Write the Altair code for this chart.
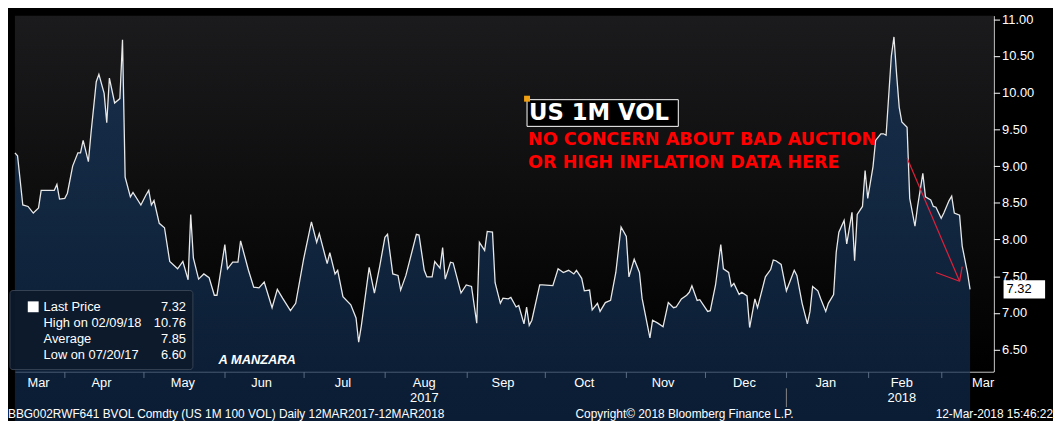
import pandas as pd
import altair as alt

# day offsets from 13-Mar-2017 and BVOL values
days = [0, 1, 3, 5, 7, 9, 10, 15, 16, 17, 19, 20, 22, 24, 25, 26, 28, 29, 31, 32,
        34, 35, 36, 38, 40, 41, 42, 44, 45, 48, 50, 51, 52, 53, 55, 57, 59, 62, 64, 66,
        67, 68, 70, 72, 74, 76, 77, 80, 81, 83, 85, 86, 89, 91, 93, 95, 98, 100, 102, 105,
        107, 110, 113, 115, 116, 119, 120, 122, 123, 125, 128, 130, 131, 132, 135, 137, 139, 141, 142, 144,
        146, 147, 149, 153, 154, 156, 157, 159, 160, 162, 163, 164, 166, 167, 170, 172, 174, 176, 177, 179,
        180, 182, 183, 185, 186, 188, 189, 191, 192, 194, 195, 196, 197, 200, 201, 205, 207, 209, 211, 213,
        214, 216, 217, 219, 220, 222, 223, 225, 227, 229, 231, 233, 234, 236, 238, 239, 242, 243, 245, 247,
        249, 251, 252, 254, 256, 257, 258, 260, 261, 264, 265, 267, 269, 270, 272, 273, 274, 276, 277, 279,
        280, 282, 283, 286, 288, 289, 290, 292, 293, 294, 297, 298, 300, 302, 303, 304, 306, 307, 309, 310,
        312, 313, 314, 316, 317, 319, 320, 321, 323, 324, 325, 327, 328, 330, 331, 332, 334, 335, 336, 337,
        338, 340, 341, 343, 344, 346, 347, 349, 350, 351, 353, 354, 356, 357, 358, 360, 361, 363, 364]
vals = [9.18, 9.14, 8.47, 8.45, 8.36, 8.43, 8.67, 8.67, 8.75, 8.55, 8.56, 8.63, 9.00, 9.18, 9.18, 9.35, 9.06, 9.45, 10.15, 10.25,
        9.99, 9.59, 10.20, 9.86, 9.92, 10.72, 8.85, 8.58, 8.64, 8.47, 8.61, 8.67, 8.47, 8.53, 8.22, 8.16, 7.70, 7.60, 7.70, 7.45,
        8.34, 7.75, 7.46, 7.53, 7.48, 7.24, 7.24, 7.93, 7.60, 7.69, 7.69, 7.98, 7.58, 7.35, 7.34, 7.42, 7.07, 7.32, 7.20, 7.03,
        7.13, 7.73, 8.24, 7.96, 8.08, 7.67, 7.82, 7.53, 7.58, 7.22, 7.11, 6.93, 6.60, 6.82, 7.62, 7.27, 7.63, 8.03, 8.07, 7.53,
        7.51, 7.31, 7.51, 8.07, 8.06, 7.58, 7.49, 7.49, 7.70, 7.61, 7.89, 7.46, 7.69, 7.68, 7.27, 7.38, 7.36, 6.86, 7.96, 7.85,
        8.11, 8.10, 7.41, 7.13, 7.20, 7.19, 7.21, 7.08, 7.10, 6.85, 7.08, 6.83, 6.90, 7.38, 7.38, 7.37, 7.60, 7.55, 7.58, 7.53,
        7.58, 7.47, 7.30, 7.31, 7.04, 7.13, 7.02, 7.14, 7.17, 7.55, 8.17, 8.04, 7.49, 7.73, 7.55, 7.20, 6.66, 6.90, 6.86, 6.81,
        7.14, 7.07, 7.08, 7.19, 7.24, 7.28, 7.37, 7.17, 7.18, 7.02, 7.03, 7.38, 7.93, 7.60, 7.55, 7.36, 7.40, 7.25, 7.28, 7.23,
        6.80, 7.19, 7.07, 7.49, 7.59, 7.72, 7.71, 7.66, 7.48, 7.30, 7.58, 7.51, 7.13, 6.85, 7.02, 7.36, 7.30, 7.20, 7.02, 7.13,
        7.25, 7.83, 8.10, 8.26, 7.94, 8.37, 7.71, 8.34, 8.45, 8.94, 8.56, 8.99, 9.35, 9.44, 9.44, 9.42, 10.50, 10.76, 10.25, 9.80,
        9.60, 9.53, 8.56, 8.18, 8.45, 8.90, 8.58, 8.54, 8.45, 8.44, 8.29, 8.36, 8.53, 8.59, 8.36, 8.33, 7.91, 7.55, 7.32]

months = ["Mar", "Apr", "May", "Jun", "Jul", "Aug", "Sep", "Oct", "Nov", "Dec", "Jan", "Feb", "Mar"]
month_mid = ["2017-03-22", "2017-04-15", "2017-05-16", "2017-06-15", "2017-07-16", "2017-08-16",
             "2017-09-15", "2017-10-16", "2017-11-15", "2017-12-16", "2018-01-16", "2018-02-14", "2018-03-17"]
years = ["2017", "2018"]
year_mid = ["2017-08-16", "2018-02-14"]

legend_names = ["Last Price", "High on 02/09/18", "Average", "Low on 07/20/17"]
legend_vals = ["7.32", "10.76", "7.85", "6.60"]
footer_texts = ["BBG002RWF641 BVOL Comdty (US 1M 100 VOL)  Daily 12MAR2017-12MAR2018",
                "Copyright\u00a9 2018 Bloomberg Finance L.P.", "12-Mar-2018 15:46:22"]

W, H = 990, 360
start = pd.Timestamp("2017-03-13")
df = pd.DataFrame({"date": start + pd.to_timedelta(days, unit="D"), "v": vals})
x_dom = [start.isoformat(), (start + pd.Timedelta(days=373)).isoformat()]
xs = alt.Scale(domain=x_dom)
ys = alt.Scale(domain=[6.2, 11.05], nice=False, zero=False)
ps = alt.Scale(domain=[0, H], range=[0, H])
FONT = "Liberation Sans"

bg = alt.Chart(pd.DataFrame({"a": [0]})).mark_rect(
    color={"gradient": "linear", "x1": 0, "y1": 0, "x2": 0, "y2": 1,
           "stops": [{"offset": 0, "color": "#1b1b1d"}, {"offset": 1, "color": "#000000"}]}
).encode(x=alt.value(0), x2=alt.value(W), y=alt.value(0), y2=alt.value(H))

area = alt.Chart(df).mark_area(
    color={"gradient": "linear", "x1": 0, "y1": 0, "x2": 0, "y2": 1,
           "stops": [{"offset": 0, "color": "#18385e"}, {"offset": 1, "color": "#061a36"}]},
    line={"color": "#e8e8e8", "strokeWidth": 1.3}
).encode(
    x=alt.X("date:T", scale=xs, axis=alt.Axis(
        title=None, labels=False, tickCount={"interval": "month", "step": 1},
        grid=True, gridColor="#666", gridDash=[2, 3], domainColor="#ffffff",
        tickColor="#ffffff", tickSize=6)),
    y=alt.Y("v:Q", scale=ys, axis=alt.Axis(
        orient="right", title=None, values=[6.5 + 0.5 * i for i in range(10)], format=".2f",
        grid=True, gridColor="#666", gridDash=[2, 3], domainColor="#ffffff",
        tickColor="#ffffff", tickSize=6, labelColor="#ffffff", labelFontSize=13,
        labelFont=FONT, labelPadding=2)),
)

mlab = alt.Chart(pd.DataFrame({"d": month_mid, "t": months})).mark_text(
    color="#ffffff", fontSize=13, font=FONT).encode(
    x=alt.X("d:T", scale=xs), y=alt.value(H + 12), text="t:N")
ylab = alt.Chart(pd.DataFrame({"d": year_mid, "t": years})).mark_text(
    color="#ffffff", fontSize=13, font=FONT).encode(
    x=alt.X("d:T", scale=xs), y=alt.value(H + 27), text="t:N")
ysep = alt.Chart(pd.DataFrame({"d": ["2018-01-01"]})).mark_rule(color="#888").encode(
    x=alt.X("d:T", scale=xs), y=alt.value(H + 17), y2=alt.value(H + 36))

foot_l = alt.Chart(pd.DataFrame({"t": [footer_texts[0]]})).mark_text(
    color="#ffffff", fontSize=12, font=FONT, align="left").encode(
    x=alt.value(-7), y=alt.value(H + 43), text="t:N")
foot_c = alt.Chart(pd.DataFrame({"t": [footer_texts[1]]})).mark_text(
    color="#ffffff", fontSize=12, font=FONT, align="left").encode(
    x=alt.value(567), y=alt.value(H + 43), text="t:N")
foot_r = alt.Chart(pd.DataFrame({"t": [footer_texts[2]]})).mark_text(
    color="#ffffff", fontSize=12, font=FONT, align="right").encode(
    x=alt.value(1050), y=alt.value(H + 43), text="t:N")

# last price tag on the axis
tag = alt.Chart(pd.DataFrame({"v1": [7.195], "v2": [7.445]})).mark_rect(
    color="#ffffff").encode(x=alt.value(W + 10), x2=alt.value(W + 52),
                            y=alt.Y("v1:Q", scale=ys, axis=None), y2="v2:Q")
tag_txt = alt.Chart(pd.DataFrame({"v": [7.32], "t": ["7.32"]})).mark_text(
    color="#000000", fontSize=13, font=FONT, align="left").encode(
    x=alt.value(W + 13), y=alt.Y("v:Q", scale=ys, axis=None), text="t:N")

# legend box
lbox = alt.Chart(pd.DataFrame({"a": [0]})).mark_rect(
    fill="#0c1a2c", stroke="#3a4656", cornerRadius=3, opacity=0.95).encode(
    x=alt.value(-5), x2=alt.value(180), y=alt.value(278), y2=alt.value(358))
ldf = pd.DataFrame({"n": legend_names, "v": legend_vals, "y": [295, 311, 327, 343]})
lname = alt.Chart(ldf).mark_text(color="#ffffff", fontSize=13, font=FONT, align="left").encode(
    x=alt.value(29), y=alt.Y("y:Q", scale=ps, axis=None), text="n:N")
lval = alt.Chart(ldf).mark_text(color="#ffffff", fontSize=13, font=FONT, align="right").encode(
    x=alt.value(173), y=alt.Y("y:Q", scale=ps, axis=None), text="v:N")
lsq = alt.Chart(pd.DataFrame({"a": [0]})).mark_rect(color="#ffffff").encode(
    x=alt.value(13), x2=alt.value(24), y=alt.value(289), y2=alt.value(300))
manz = alt.Chart(pd.DataFrame({"t": ["A MANZARA"]})).mark_text(
    color="#ffffff", fontSize=13, font=FONT, fontStyle="italic", fontWeight="bold",
    align="left").encode(x=alt.value(206), y=alt.value(348), text="t:N")

# annotation
title_box = alt.Chart(pd.DataFrame({"a": [0]})).mark_rect(
    fill="#000000", stroke="#ffffff", strokeWidth=1).encode(
    x=alt.value(518), x2=alt.value(671), y=alt.value(85), y2=alt.value(112))
title_dot = alt.Chart(pd.DataFrame({"a": [0]})).mark_rect(color="#f0a010").encode(
    x=alt.value(515), x2=alt.value(521), y=alt.value(81), y2=alt.value(87))
title_txt = alt.Chart(pd.DataFrame({"t": ["US 1M VOL"]})).mark_text(
    color="#ffffff", fontSize=23, font="DejaVu Sans", fontWeight="bold", align="left").encode(
    x=alt.value(520), y=alt.value(99), text="t:N")
red = alt.Chart(pd.DataFrame({"t": ["NO CONCERN ABOUT BAD AUCTION", "OR HIGH INFLATION DATA HERE"],
                              "y": [126, 149]})).mark_text(
    color="#ff0000", fontSize=17.8, font="DejaVu Sans", fontWeight="bold", align="left").encode(
    x=alt.value(519), y=alt.Y("y:Q", scale=ps, axis=None), text="t:N")

arr = pd.DataFrame({
    "d1": ["2018-02-16", "2018-03-08", "2018-03-08"],
    "v1": [9.11, 7.43, 7.43],
    "d2": ["2018-03-08", "2018-02-27", "2018-03-09"],
    "v2": [7.43, 7.55, 7.63]})
arrow = alt.Chart(arr).mark_rule(color="#e0203a", strokeWidth=1.2).encode(
    x=alt.X("d1:T", scale=xs), y=alt.Y("v1:Q", scale=ys, axis=None), x2="d2:T", y2="v2:Q")

chart = alt.layer(
    bg, area, mlab, ylab, ysep, foot_l, foot_c, foot_r, tag, tag_txt,
    lbox, lsq, lname, lval, manz, title_box, title_dot, title_txt, red, arrow
).resolve_scale(y="independent").properties(
    width=W, height=H, background="#000000", padding={"left": 0, "top": 0, "right": 0, "bottom": 0}
).configure_view(stroke=None)

chart.save("out.html", embed_options={"renderer": "svg", "actions": False})
